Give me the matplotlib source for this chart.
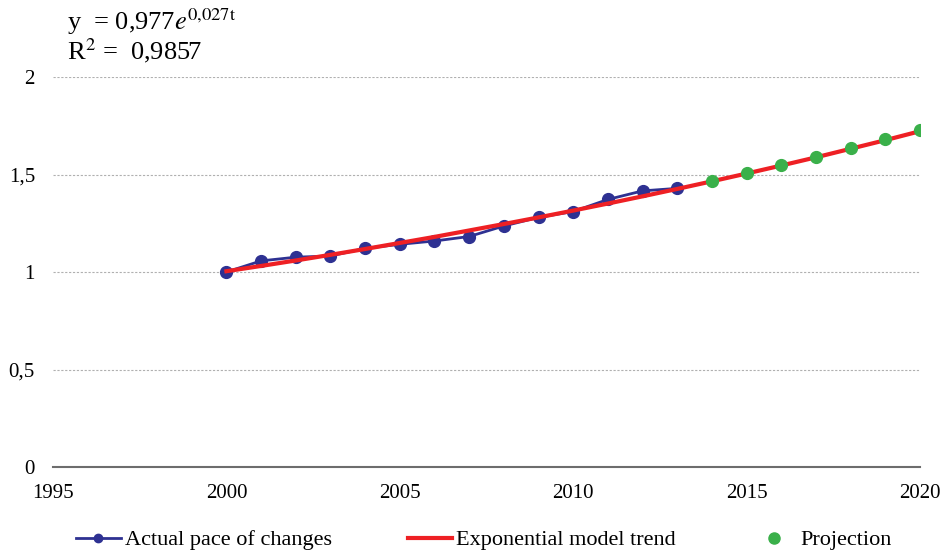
import matplotlib
matplotlib.use("Agg")
import matplotlib.pyplot as plt
from matplotlib.ticker import FuncFormatter
from matplotlib.lines import Line2D

plt.rcParams['font.family'] = ['Liberation Serif', 'DejaVu Serif']
plt.rcParams['mathtext.fontset'] = 'stix'

actual_years = [2000, 2001, 2002, 2003, 2004, 2005, 2006, 2007, 2008, 2009, 2010, 2011, 2012, 2013]
actual_values = [1.000, 1.057, 1.076, 1.082, 1.121, 1.142, 1.159, 1.182, 1.236, 1.280, 1.310, 1.372, 1.416, 1.429]

trend_years = list(range(2000, 2021))
trend_values = [1.004, 1.031, 1.059, 1.088, 1.118, 1.149, 1.180, 1.213, 1.246, 1.280, 1.315,
                1.351, 1.388, 1.426, 1.465, 1.505, 1.546, 1.588, 1.632, 1.676, 1.722]

proj_years = [2014, 2015, 2016, 2017, 2018, 2019, 2020]
proj_values = [1.468, 1.506, 1.547, 1.591, 1.637, 1.680, 1.727]

x_ticks = [1995, 2000, 2005, 2010, 2015, 2020]
y_ticks = [0, 0.5, 1, 1.5, 2]

BLUE = '#2E3192'
RED = '#EE2024'
GREEN = '#3AB04A'

fig = plt.figure(figsize=(9.49, 5.52), dpi=100)
ax = fig.add_axes([53/949, 1-467/552, (920-53)/949, (467-77)/552])

ax.plot(actual_years, actual_values, color=BLUE, lw=2.0, marker='o', ms=8.5, zorder=3)
ax.plot(trend_years, trend_values, color=RED, lw=3.0, zorder=4)
ax.plot(proj_years, proj_values, ls='none', marker='o', ms=8.5, color=GREEN, zorder=5)

ax.set_xlim(1995, 2020)
ax.set_ylim(0, 2)
ax.set_xticks(x_ticks)
ax.set_yticks(y_ticks)
ax.yaxis.set_major_formatter(FuncFormatter(lambda v, p: ('%g' % v).replace('.', ',')))
for s in ['top', 'right', 'left']:
    ax.spines[s].set_visible(False)
ax.spines['bottom'].set_color('#6d6d6d')
ax.spines['bottom'].set_linewidth(1.5)
ax.tick_params(axis='both', length=0, labelsize=15)
ax.tick_params(axis='x', pad=12)
ax.tick_params(axis='y', pad=13)
ax.grid(axis='y', color='#b0b0b0', ls=(0, (2, 1.5)), lw=0.8)
ax.set_axisbelow(True)

fig.text(67/949, 1-22/552, r'y  = 0,977$e^{0{,}027\mathrm{t}}$', fontsize=19, va='center', ha='left')
fig.text(67/949, 1-51/552, r'R$^{2}$ =  0,9857', fontsize=19, va='center', ha='left')

handles = [
    Line2D([], [], color=BLUE, lw=2.0, marker='o', ms=6),
    Line2D([], [], color=RED, lw=3.0),
    Line2D([], [], ls='none', marker='o', ms=8, color=GREEN),
]
labels = ['Actual pace of changes', 'Exponential model trend', 'Projection']
fig.legend(handles, labels, loc='center', bbox_to_anchor=(484/949, 1-540/552), ncol=3, frameon=False,
           fontsize=16, columnspacing=3.4, handlelength=2.0, handletextpad=0.2)

fig.savefig('out.png', dpi=100)
